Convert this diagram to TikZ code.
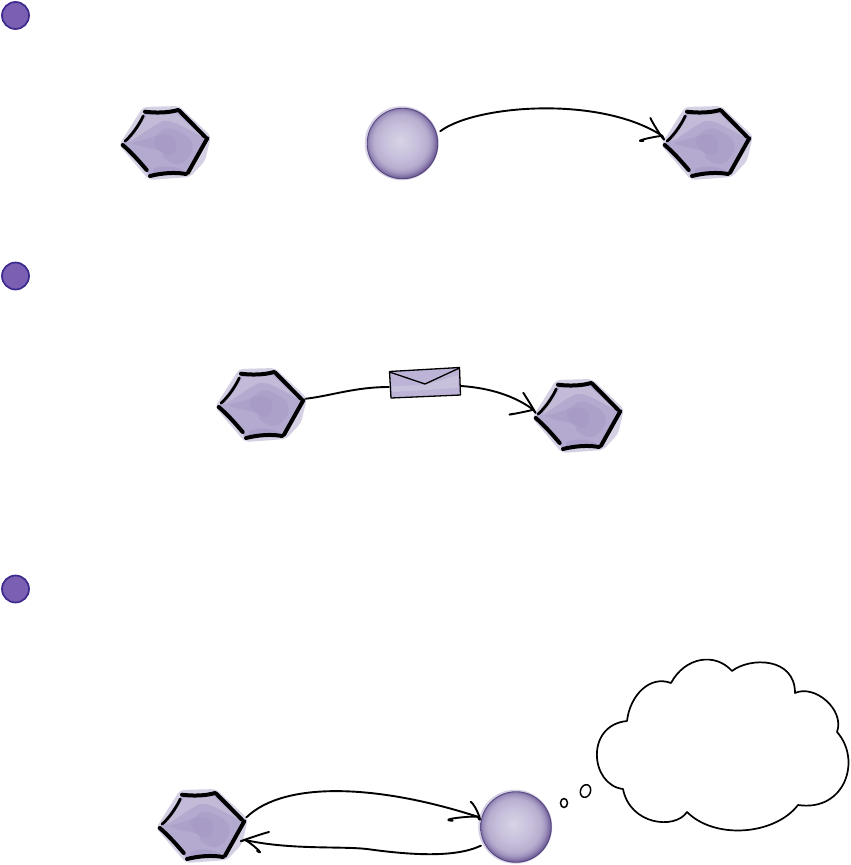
\documentclass[tikz,border=0pt]{standalone}
\usetikzlibrary{shapes.geometric,calc}
\definecolor{halo}{HTML}{D6D0E5}
\definecolor{hexfill}{HTML}{B4AACF}
\definecolor{hexdark}{HTML}{A195C2}
\definecolor{hexlight}{HTML}{C8C1DB}
\definecolor{badgefill}{HTML}{7A5FB2}
\definecolor{badgeline}{HTML}{3E2A8E}
\definecolor{orbdark}{HTML}{43346E}
\definecolor{envfill}{HTML}{BDB3D6}
\pgfdeclareradialshading{orbshade}{\pgfpoint{-2bp}{2bp}}{
  rgb(0bp)=(0.85,0.83,0.90);
  rgb(12bp)=(0.78,0.75,0.86);
  rgb(19bp)=(0.72,0.68,0.81);
  rgb(22bp)=(0.63,0.58,0.75);
  rgb(25bp)=(0.46,0.39,0.61);
  rgb(28bp)=(0.33,0.26,0.50);
  rgb(50bp)=(0.30,0.24,0.46)}
\tikzset{
  x=1pt,y=-1pt,
  wire/.style={draw=black,line width=1.9pt,line cap=round,line join=round},
  cloudline/.style={draw=black,line width=1.7pt,line join=round},
  badge/.style={circle,draw=badgeline,fill=badgefill,line width=1.7pt,minimum size=27pt,inner sep=0pt},
  hexhold/.style={circle,minimum size=90pt,inner sep=0pt},
  orbhold/.style={circle,minimum size=79pt,inner sep=0pt},
  bubble/.style={ellipse,draw=black,line width=1.5pt,fill=white,inner sep=0pt},
  inkbold/.style={line width=4pt,line cap=round,draw=black},
  inkthin/.style={line width=2.8pt,line cap=round,draw=black},
  hexart/.pic={
    \fill[halo,rounded corners=4pt] (-22,-36)--(14,-37)--(46,-7)--(40,18)--(25,34)--(-16,37)--(-46,2)--cycle;
    \fill[hexfill] (-20,-31)--(13,-33)--(42,-5)--(23,30)--(-15,33)--(-42,1)--cycle;
    \fill[hexlight,opacity=.7] (-18,-28)--(11,-30)--(36,-7) .. controls (22,-14) and (8,-24) .. (-2,-22) .. controls (-12,-18) and (-24,-8) .. (-36,-1) -- cycle;
    \fill[hexdark,opacity=.4] (-33,0) .. controls (-20,-4) and (-14,-4) .. (-6,-10) .. controls (2,-18) and (10,-14) .. (20,-8) .. controls (30,-2) and (30,8) .. (22,16) .. controls (16,24) and (6,22) .. (-2,14) .. controls (0,4) and (-16,8) .. (-33,0) -- cycle;
    \fill[hexdark,opacity=.35] (-10,-6) .. controls (-2,-10) and (6,-10) .. (10,-4) .. controls (14,6) and (8,14) .. (2,12) .. controls (-6,8) and (-14,2) .. (-10,-6) -- cycle;
    \fill[hexdark,opacity=.5] (-12,26) .. controls (-2,22) and (8,23) .. (18,27) -- (14,30) -- (-12,31) -- cycle;
    \draw[inkbold] (-20,-31.3) .. controls (-10,-30) and (3,-30) .. (13,-33);
    \draw[inkbold] (14.3,-32.3) -- (40,-6.3);
    \draw[inkbold] (42.3,-4.7) -- (23,29.7);
    \draw[inkbold] (21,31) .. controls (10,29) and (-3,30) .. (-15,33);
    \draw[inkbold] (-18.3,27) .. controls (-26,18) and (-34,9) .. (-42.3,2);
    \draw[inkthin] (-40,-1.8) .. controls (-32,-9) and (-26,-18) .. (-21.7,-27);
  },
  orbart/.pic={
    \fill[halo] (-.8,-.3) circle[radius=37];
    \shade[shading=orbshade] (0,0) circle[radius=35.5];
    \draw[orbdark,opacity=.7,line width=.9pt] (0,0) circle[radius=35.3];
  },
}
\begin{document}
\begin{tikzpicture}
\useasboundingbox (0,0) rectangle (851,865);
\fill[white] (0,0) rectangle (851,865);

% step badges
\node[badge] (s1) at (15.5,15.5) {};
\node[badge] (s2) at (15.5,276) {};
\node[badge] (s3) at (15.5,589) {};

% art
\path (165,143) pic{hexart};
\path (707,143) pic{hexart};
\path (261,405) pic{hexart};
\path (578,416) pic{hexart};
\path (202,826) pic{hexart};
\path (402.5,143.5) pic{orbart};
\path (516,827) pic{orbart};

% anchor nodes
\node[hexhold] (h1) at (165,143) {};
\node[hexhold] (h2) at (707,143) {};
\node[hexhold] (h3) at (261,405) {};
\node[hexhold] (h4) at (578,416) {};
\node[hexhold] (h5) at (202,826) {};
\node[orbhold] (c1) at (402.5,143.5) {};
\node[orbhold] (c2) at (516,827) {};

% envelope
\node[rectangle,minimum width=72pt,minimum height=30pt,inner sep=0pt] (env) at (425,383) {};
\fill[envfill] (389.5,371.5)--(459.5,367.5)--(460.5,395)--(391,398)--cycle;
\fill[hexlight] (392,386)--(425,385)--(458,375)--(458,388)--(392,392)--cycle;
\draw[black,line width=1.3pt,line join=round] (389.5,371.5)--(459.5,367.5)--(460.5,395)--(391,398)--cycle;
\draw[black,line width=1.3pt,line join=round] (389.5,372)--(425,384)--(459.5,368);

% connectors
\draw[wire] (c1.18) .. controls (475,105) and (600,95) .. (h2.171);
\draw[wire] ($(h2.171)+(-12,-18)$) .. controls +(3,7) and +(7,13) .. (h2.171) .. controls +(-6,0) and +(-13,1) .. +(-19,5);

\draw[wire] (h3.8) .. controls (330,396) and (355,387) .. (env.west |- 0,387);
\draw[wire] (env.east |- 0,386) .. controls (490,388) and (515,396) .. (h4.172);
\draw[wire] ($(h4.172)+(-10,-17)$) .. controls +(4,6) and +(8,12) .. (h4.172) .. controls +(-7,2) and +(-14,3) .. +(-20,4);

\draw[wire] (h5.11) .. controls (285,780) and (380,785) .. (c2.165);
\draw[wire] ($(c2.165)+(-7,-15)$) .. controls +(6,4) and +(6,11) .. (c2.165) .. controls +(-7,-1) and +(-17,-1) .. +(-25,4);
\draw[wire] (c2.208) .. controls (455,858) and (410,855) .. (367,849) .. controls (340,846) and (290,850) .. (h5.-18);
\draw[wire] ($(h5.-18)+(24,-8)$) .. controls +(-8,2) and +(-16,5) .. (h5.-18) .. controls +(5,2) and +(10,6) .. +(12,11);

% thought bubbles
\node[bubble,minimum width=7pt,minimum height=9pt] (b1) at (564,803) {};
\node[bubble,minimum width=10pt,minimum height=13pt,rotate=-20] (b2) at (585.5,791) {};

% cloud
\draw[cloudline,fill=white] (671,683)
  .. controls (685,657) and (715,652) .. (732,671)
  .. controls (750,657) and (795,657) .. (795,693)
  .. controls (815,684) and (845,710) .. (837,732)
  .. controls (862,760) and (845,812) .. (798,805)
  .. controls (775,835) and (715,840) .. (687,812)
  .. controls (675,830) and (630,825) .. (623,789)
  .. controls (590,785) and (585,725) .. (627,721)
  .. controls (630,695) and (650,675) .. (671,683) -- cycle;
\end{tikzpicture}
\end{document}
